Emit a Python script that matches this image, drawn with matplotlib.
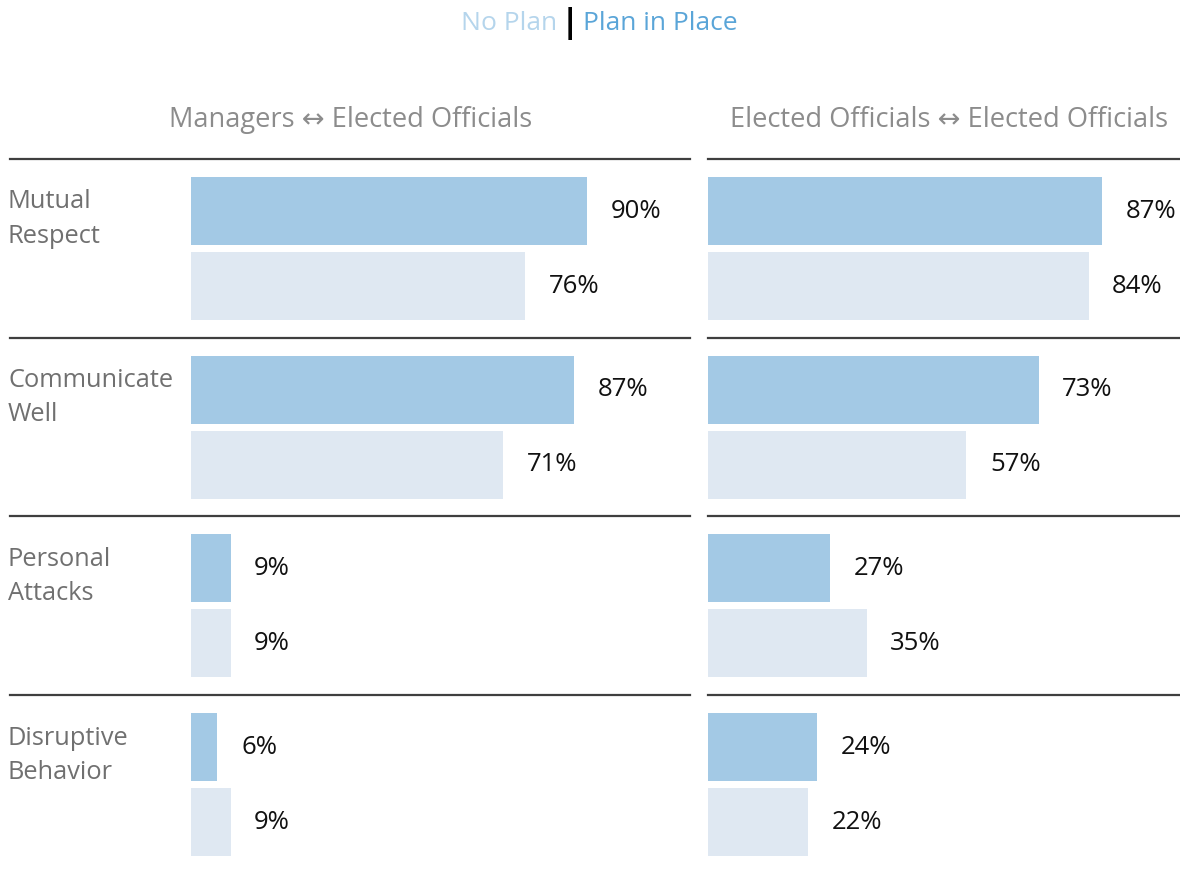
import numpy as np
import matplotlib.pyplot as plt
import matplotlib.transforms as mtransforms

plt.rcParams['font.family'] = ['Open Sans', 'DejaVu Sans']

# Data
categories = ['Mutual\nRespect', 'Communicate\nWell', 'Personal\nAttacks', 'Disruptive\nBehavior']
panel_titles = ['Managers \u2194 Elected Officials', 'Elected Officials \u2194 Elected Officials']
plan_left = [90, 87, 9, 6]
noplan_left = [76, 71, 9, 9]
plan_right = [87, 73, 27, 24]
noplan_right = [84, 57, 35, 22]

C_PLAN = '#a3c9e5'
C_NOPLAN = '#dfe8f2'
C_LINE = '#3f3f3f'
C_GRAY = '#707070'

W, H = 1180, 872
fig = plt.figure(figsize=(W / 100, H / 100), dpi=100)

# group layout (in group units, 1 unit = one block between separators)
grp_px = 178.7
bar_h = 68 / grp_px
y_plan = 52 / grp_px
y_noplan = 127 / grp_px
ax_top = 159

def make_panel(x0, x1, zero_px, scale, plan, noplan):
    ax = fig.add_axes([x0 / W, 0, (x1 - x0) / W, (H - ax_top) / H])
    ax.set_xlim(-(zero_px - x0) / scale, (x1 - zero_px) / scale)
    ax.set_ylim((H - ax_top) / grp_px, 0)
    ax.axis('off')
    idx = np.arange(len(plan))
    ax.barh(idx + y_plan, plan, height=bar_h, color=C_PLAN, left=0)
    ax.barh(idx + y_noplan, noplan, height=bar_h, color=C_NOPLAN, left=0)
    for i in idx:
        ax.axhline(i, color=C_LINE, lw=1.6, clip_on=False)
        for v, y in ((plan[i], i + y_plan), (noplan[i], i + y_noplan)):
            ax.annotate(f'{v}%', xy=(v, y), xytext=(17, 0), textcoords='offset points',
                        ha='left', va='center', fontsize=18.5, color='#111111')
    return ax

axL = make_panel(10, 690, 191, 4.40, plan_left, noplan_left)
axR = make_panel(708, 1180, 708, 4.53, plan_right, noplan_right)

# category labels
tr = mtransforms.blended_transform_factory(fig.transFigure, axL.transData)
for i, lab in enumerate(categories):
    axL.text(8 / W, i + 60 / grp_px, lab, transform=tr, ha='left', va='center',
             fontsize=18.3, color=C_GRAY, linespacing=1.48)

# panel headers
fig.text(351 / W, 1 - 120 / H, panel_titles[0], ha='center', va='center', fontsize=19.6, color='#8c8c8c')
fig.text(949 / W, 1 - 120 / H, panel_titles[1], ha='center', va='center', fontsize=19.6, color='#8c8c8c')

# legend title
fig.text(557 / W, 1 - 24 / H, 'No Plan', ha='right', va='center', fontsize=19, color='#b5d5ec')
fig.text(570 / W, 1 - 24 / H, '|', ha='center', va='center', fontsize=24, fontweight='bold', color='black')
fig.text(583 / W, 1 - 24 / H, 'Plan in Place', ha='left', va='center', fontsize=19, color='#5aa5d8')

fig.savefig('out.png', dpi=100)
